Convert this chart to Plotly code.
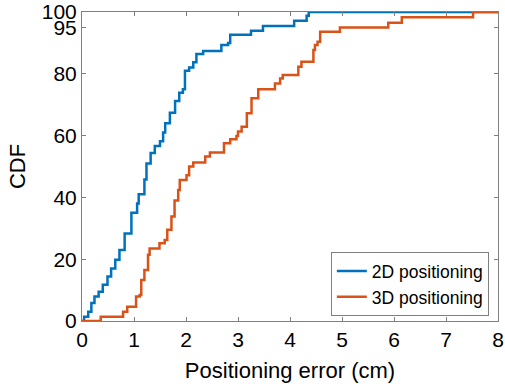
import plotly.graph_objects as go

# 2D positioning CDF (step points: x where step occurs, new level)
x2d = [0, 0.04, 0.12, 0.18, 0.24, 0.32, 0.40, 0.49, 0.56, 0.64, 0.72, 0.82, 0.95,
       1.06, 1.09, 1.20, 1.24, 1.32, 1.40, 1.50, 1.56, 1.60, 1.69, 1.79, 1.87, 1.94,
       1.98, 2.06, 2.14, 2.20, 2.33, 2.68, 2.81, 2.85, 3.25, 3.48, 4.08, 4.32, 4.36, 8.0]
y2d = [0, 1.4, 3.0, 5.8, 7.9, 9.5, 11.7, 14.4, 17.0, 19.8, 23.0, 28.3, 35.0,
       38.0, 41.0, 45.8, 51.0, 54.4, 56.6, 58.2, 61.0, 64.0, 67.4, 71.2, 73.9, 75.0,
       81.0, 82.0, 83.7, 86.4, 87.4, 89.3, 90.0, 92.6, 93.9, 95.5, 97.2, 98.8, 100, 100]

# 3D positioning CDF
x3d = [0, 0.36, 0.79, 0.87, 1.04, 1.11, 1.14, 1.20, 1.27, 1.30, 1.49, 1.59, 1.64,
       1.72, 1.78, 1.85, 1.88, 2.01, 2.06, 2.14, 2.37, 2.46, 2.73, 2.85, 2.97, 3.00,
       3.07, 3.17, 3.26, 3.39, 3.71, 3.81, 3.86, 4.16, 4.22, 4.45, 4.48, 4.53, 4.58,
       4.96, 5.89, 6.15, 7.52, 8.0]
y3d = [0, 1.4, 3.0, 4.6, 7.9, 8.4, 13.3, 16.5, 21.4, 23.5, 25.2, 26.2, 29.5,
       33.8, 39.0, 42.4, 45.6, 47.2, 50.0, 51.3, 53.2, 54.5, 57.5, 58.8, 59.9, 61.3,
       62.9, 67.2, 72.1, 75.0, 76.9, 78.5, 79.6, 82.3, 83.9, 87.7, 89.3, 90.4, 93.6,
       95.0, 96.5, 98.3, 100, 100]

xticks = [0, 1, 2, 3, 4, 5, 6, 7, 8]
yticks = [0, 20, 40, 60, 80, 95, 100]

FONT = "Liberation Sans, Arial, sans-serif"

fig = go.Figure()
fig.add_trace(go.Scatter(x=x2d, y=y2d, mode="lines", line_shape="hv",
                         line=dict(color="#0072BD", width=2.5), name="2D positioning"))
fig.add_trace(go.Scatter(x=x3d, y=y3d, mode="lines", line_shape="hv",
                         line=dict(color="#D95319", width=2.5), name="3D positioning"))

axis_common = dict(showgrid=False, zeroline=False, showline=True, linecolor="#808080",
                   linewidth=1, mirror="ticks", ticks="inside", ticklen=4,
                   tickcolor="#808080", automargin=False,
                   tickfont=dict(family=FONT, size=21, color="black"))

fig.update_xaxes(range=[0, 8], tickvals=xticks, ticktext=[str(v) for v in xticks],
                 title=dict(text="Positioning error (cm)", font=dict(family=FONT, size=22, color="black"),
                            standoff=12),
                 **axis_common)
fig.update_yaxes(range=[0, 100], tickvals=yticks, ticktext=[str(v) for v in yticks],
                 title=dict(text="CDF", font=dict(family=FONT, size=22, color="black"),
                            standoff=10),
                 **axis_common)

fig.update_layout(
    width=505, height=387,
    margin=dict(l=82, r=7, t=12, b=66, autoexpand=False),
    plot_bgcolor="white", paper_bgcolor="white",
    font=dict(family=FONT, color="black"),
    legend=dict(x=0.978, y=0.016, xanchor="right", yanchor="bottom",
                bgcolor="white", bordercolor="#808080", borderwidth=1,
                font=dict(family=FONT, size=17.5, color="black"),
                itemwidth=30, tracegroupgap=0),
)

fig.write_html("out.html", config={"displayModeBar": False},
               post_script="document.body.style.margin='0';document.body.style.padding='0';")
